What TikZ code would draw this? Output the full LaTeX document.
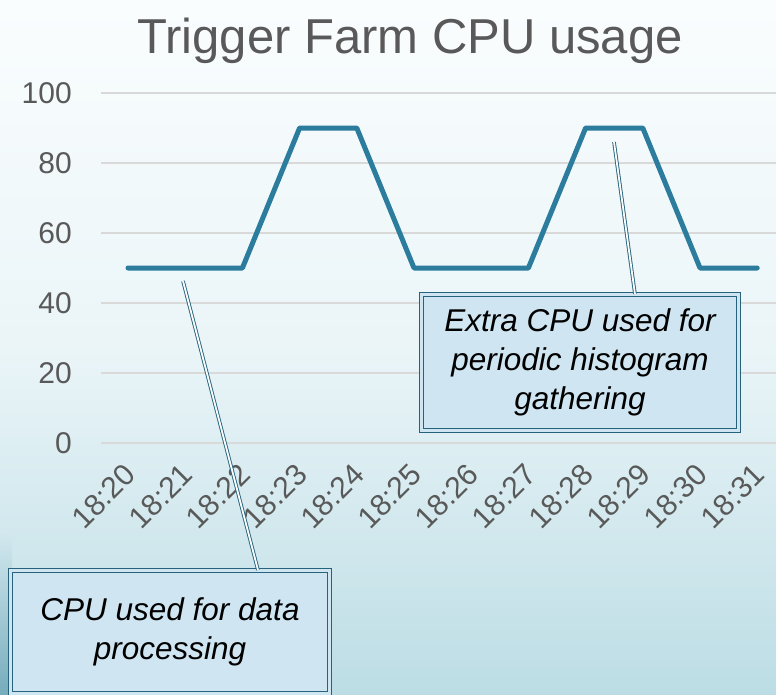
\documentclass[tikz,border=0pt]{standalone}
\usepackage{fontspec}
\setmainfont{Liberation Sans}
\usetikzlibrary{positioning}

\definecolor{bgtop}{RGB}{250,253,254}
\definecolor{bgbottom}{RGB}{188,221,229}
\definecolor{bgcorner}{RGB}{118,172,188}
\definecolor{gridgray}{RGB}{217,217,217}
\definecolor{labelgray}{RGB}{89,89,89}
\definecolor{plotblue}{RGB}{44,124,158}
\definecolor{calloutedge}{RGB}{38,98,124}
\definecolor{calloutfill}{RGB}{207,230,242}

\begin{document}
\begin{tikzpicture}[x=1pt, y=-1pt, style={
    gridline/.style={
      draw=gridgray,
      line width=1.3pt,
    },
    axislabel/.style={
      text=labelgray,
      inner sep=0pt,
      font=\fontsize{30}{30}\selectfont,
    },
    ticklabel/.style={
      axislabel, rotate=45,
      anchor=east,
      inner sep=1pt,
    },
    cpuline/.style={
      draw=plotblue,
      line width=5pt,
      line join=round,
      line cap=round,
    },
    calloutstyle/.style={
      draw=calloutedge,
      double=calloutfill,
      double distance=2.6pt,
      line width=1.1pt,
      fill=calloutfill,
      align=center,
      font=\fontsize{31.5}{39}\selectfont\itshape,
    },
    leader/.style={
      draw=calloutedge,
      double=bgtop,
      double distance=1.8pt,
      line width=0.9pt,
    }
  }]
  \useasboundingbox (0,0) rectangle (776,694);
  \clip (0,0) rectangle (776,694);
  % background
  \shade[top color=bgtop, bottom color=bgbottom, middle color=bgtop!75!bgbottom]
    (0,0) rectangle (776,694);
  \shade[top color=bgtop!38!bgbottom, bottom color=bgcorner]
    (0,530) rectangle (12,694);

  % title
  \node[text=labelgray, font=\fontsize{49}{49}\selectfont, anchor=base]
    (title) at (410,53) {Trigger Farm CPU usage};

  % value axis and grid
  \foreach \v in {0,20,...,100} {
    \draw[gridline] (101,443-3.5*\v) -- (776,443-3.5*\v);
    \node[axislabel, anchor=east] (ylab\v) at (72,443-3.5*\v) {\v};
  }

  % time axis
  \foreach \m [count=\i from 0] in {20,...,31} {
    \node[ticklabel] (tick\m) at (131+57.2*\i,469) {18:\m};
  }

  % cpu usage
  \foreach \v [count=\i from 0] in {50,50,50,90,90,50,50,50,90,90,50,50} {
    \coordinate (p\i) at (128+57.2*\i,443-3.5*\v);
  }
  \draw[cpuline] (p0) \foreach \i in {1,...,11} { -- (p\i) };

  % callouts
  \coordinate (proctip) at (183,281);
  \coordinate (histtip) at (614,142);
  \draw[]
    node[calloutstyle, minimum width=319pt, minimum height=123pt] (procbox)
      at (170,632) {CPU used for data\\processing}
    node[calloutstyle, minimum width=317pt, minimum height=136pt] (histbox)
      at (580,362.5) {Extra CPU used for\\periodic histogram\\gathering}
  ;
  \draw[leader] (proctip) -- ([xshift=248pt]procbox.north west);
  \draw[leader] (histtip) -- ([xshift=214pt]histbox.north west);
\end{tikzpicture}
\end{document}
